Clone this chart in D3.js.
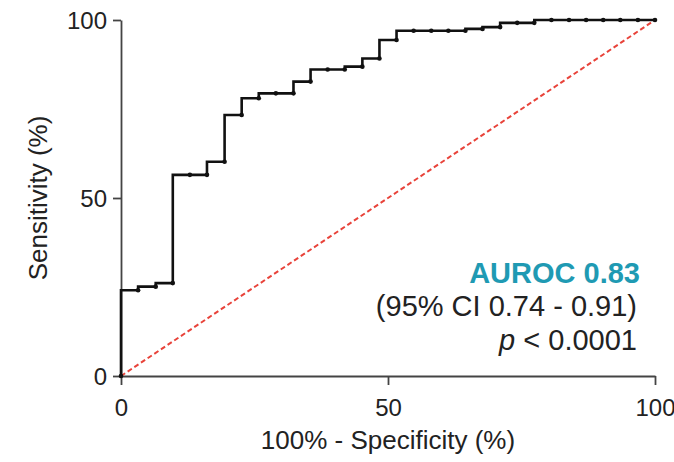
<!DOCTYPE html>
<html>
<head>
<meta charset="utf-8">
<script src="https://cdn.jsdelivr.net/npm/d3@7"></script>
<style>
  body { margin: 0; background: #fff; }
  svg text { font-family: "Liberation Sans", Arial, sans-serif; fill: #222; }
</style>
</head>
<body>
<div id="container"></div>
<script>
// ROC points (100% - specificity, sensitivity), one per negative case step
const fpr = [0, 3.2, 6.5, 9.7, 12.9, 16.1, 19.4, 22.6, 25.8, 29.0, 32.3, 35.5, 38.7, 41.9, 45.2,
             48.4, 51.6, 54.8, 58.1, 61.3, 64.5, 67.7, 71.0, 74.2, 77.4, 80.6, 83.9, 87.1, 90.3,
             93.5, 96.8, 100];
const sens = [0, 24.1, 25.1, 26.1, 56.5, 56.5, 60.2, 73.3, 78.0, 79.4, 79.4, 82.7, 86.1, 86.1, 86.9,
              89.2, 94.4, 97.0, 97.0, 97.0, 97.0, 97.5, 98.0, 99.2, 99.2, 100, 100, 100, 100,
              100, 100, 100];
const chanceLine = [0, 100];
const xTicks = [0, 50, 100];
const yTicks = [0, 50, 100];
const statLines = ["AUROC 0.83", "(95% CI 0.74 - 0.91)", "< 0.0001"];

const width = 674, height = 462;
const margin = {top: 20, right: 19, bottom: 86, left: 121};

const svg = d3.select("#container").append("svg")
    .attr("width", width)
    .attr("height", height);

const x = d3.scaleLinear().domain([0, 100]).range([margin.left, width - margin.right]);
const y = d3.scaleLinear().domain([0, 100]).range([height - margin.bottom, margin.top]);

// Axes
const xAxis = svg.append("g")
    .attr("transform", `translate(0,${y(0)})`)
    .call(d3.axisBottom(x).tickValues(xTicks).tickSize(9).tickSizeOuter(0).tickPadding(12));
const yAxis = svg.append("g")
    .attr("transform", `translate(${x(0)},0)`)
    .call(d3.axisLeft(y).tickValues(yTicks).tickSize(8).tickSizeOuter(0).tickPadding(6));

[xAxis, yAxis].forEach(g => {
    g.select(".domain").attr("stroke", "#444").attr("stroke-width", 1.8);
    g.selectAll(".tick line").attr("stroke", "#444").attr("stroke-width", 1.8);
    g.selectAll(".tick text").style("font-size", "24px").attr("fill", "#222");
});
xAxis.selectAll(".tick text").attr("dy", "0.78em");
yAxis.selectAll(".tick text").attr("dy", "0.36em");

// Axis titles
svg.append("text")
    .attr("x", (x(0) + x(100)) / 2)
    .attr("y", 449)
    .attr("text-anchor", "middle")
    .style("font-size", "26px")
    .text("100% - Specificity (%)");

svg.append("text")
    .attr("transform", `translate(47,${(y(0) + y(100)) / 2}) rotate(-90)`)
    .attr("text-anchor", "middle")
    .style("font-size", "26px")
    .text("Sensitivity (%)");

// Chance diagonal
svg.append("path")
    .datum(chanceLine)
    .attr("d", d3.line().x(d => x(d)).y(d => y(d)))
    .attr("fill", "none")
    .attr("stroke", "#e8433a")
    .attr("stroke-width", 2)
    .attr("stroke-dasharray", "5,3");

// ROC step curve
const rocData = fpr.map((d, i) => ({fpr: d, sens: sens[i]}));
svg.append("path")
    .datum(rocData)
    .attr("d", d3.line().curve(d3.curveStepBefore).x(d => x(d.fpr)).y(d => y(d.sens)))
    .attr("fill", "none")
    .attr("stroke", "#111")
    .attr("stroke-width", 2.6);

svg.selectAll(".dot")
    .data(rocData)
    .enter().append("circle")
    .attr("class", "dot")
    .attr("cx", d => x(d.fpr))
    .attr("cy", d => y(d.sens))
    .attr("r", 2.3)
    .attr("fill", "#111");

// Stats annotation
svg.append("text")
    .attr("x", 640).attr("y", 283)
    .attr("text-anchor", "end")
    .style("font-size", "29px")
    .style("font-weight", "bold")
    .style("fill", "#1f9ab3")
    .text(statLines[0]);

svg.append("text")
    .attr("x", 637).attr("y", 316)
    .attr("text-anchor", "end")
    .style("font-size", "29px")
    .text(statLines[1]);

const pText = svg.append("text")
    .attr("x", 637).attr("y", 350)
    .attr("text-anchor", "end")
    .style("font-size", "29px");
pText.append("tspan").style("font-style", "italic").text("p");
pText.append("tspan").text(" " + statLines[2]);
</script>
</body>
</html>
